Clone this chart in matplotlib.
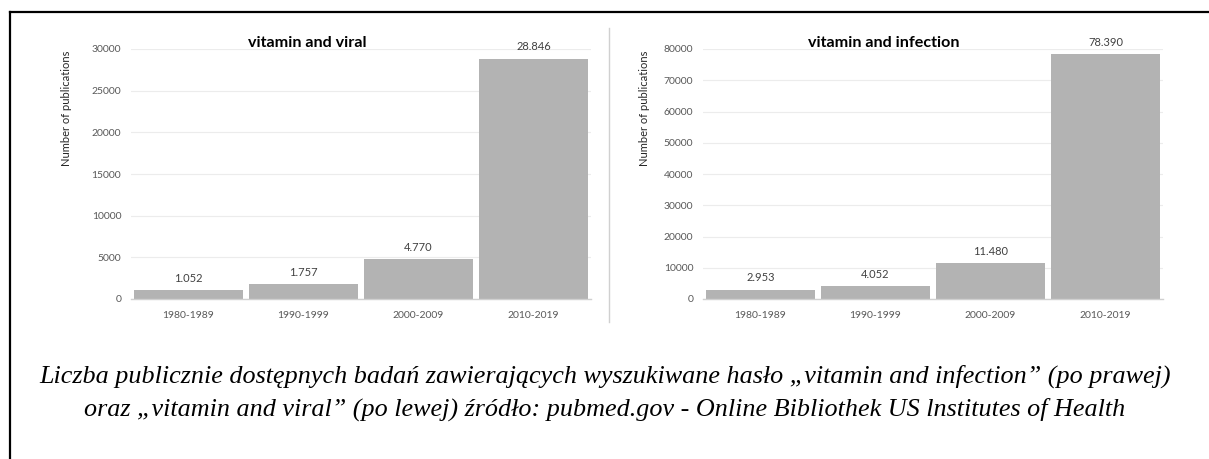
import matplotlib
matplotlib.use("Agg")
import matplotlib.pyplot as plt
from matplotlib.lines import Line2D

categories = ["1980-1989", "1990-1999", "2000-2009", "2010-2019"]
viral_values = [1052, 1757, 4770, 28846]
viral_labels = ["1.052", "1.757", "4.770", "28.846"]
infection_values = [2953, 4052, 11480, 78390]
infection_labels = ["2.953", "4.052", "11.480", "78.390"]

left_title = "vitamin and viral"
right_title = "vitamin and infection"
ylabel = "Number of publications"
caption1 = "Liczba publicznie dostępnych badań zawierających wyszukiwane hasło „vitamin and infection” (po prawej)"
caption2 = "oraz „vitamin and viral” (po lewej) źródło: pubmed.gov - Online Bibliothek US lnstitutes of Health"

W, H = 1209, 459
fig = plt.figure(figsize=(W / 100, H / 100), dpi=100)
fig.patch.set_facecolor("white")

FONT = "Lato"
BAR = "#b3b3b3"
GRID = "#ececec"
TICK = "#595959"


def px_axes(x0, x1, y_top, y_bot):
    return fig.add_axes([x0 / W, 1 - y_bot / H, (x1 - x0) / W, (y_bot - y_top) / H])


def draw_panel(ax, values, labels, ymax, ystep, title, title_x, ylabel_x):
    x = range(len(categories))
    ax.bar(x, values, width=0.955, color=BAR, zorder=2)
    ax.set_xlim(-0.5, len(categories) - 0.5)
    ax.set_ylim(0, ymax)
    ax.set_yticks(range(0, ymax + 1, ystep))
    ax.set_xticks(list(x))
    ax.set_xticklabels(categories)
    for s in ["top", "right", "left"]:
        ax.spines[s].set_visible(False)
    ax.spines["bottom"].set_color("#d0d0d0")
    ax.spines["bottom"].set_linewidth(1.0)
    ax.yaxis.grid(True, color=GRID, linewidth=0.8, zorder=0)
    ax.set_axisbelow(True)
    ax.tick_params(axis="both", length=0, labelsize=7.5, labelcolor=TICK)
    ax.tick_params(axis="y", pad=7)
    ax.tick_params(axis="x", pad=9)
    for lab in ax.get_xticklabels() + ax.get_yticklabels():
        lab.set_fontfamily(FONT)
    for xi, v, lab in zip(x, values, labels):
        ax.annotate(lab, (xi, v), xytext=(0, 8.5), textcoords="offset points",
                    ha="center", va="center", fontsize=8, color="#404040",
                    family=FONT)
    fig.text(title_x / W, 1 - 43 / H, title, ha="center", va="center",
             fontsize=11.6, fontweight="bold", family=FONT, color="black")
    fig.text(ylabel_x / W, 1 - 108 / H, ylabel, ha="center", va="center",
             rotation=90, fontsize=8, family=FONT, color="#262626")


ax1 = px_axes(131, 591, 49, 299)
draw_panel(ax1, viral_values, viral_labels, 30000, 5000, left_title, 307, 67)

ax2 = px_axes(703, 1163, 49, 299)
draw_panel(ax2, infection_values, infection_labels, 80000, 10000, right_title, 884, 645)

# separator between panels
fig.add_artist(Line2D([609 / W, 609 / W], [1 - 28 / H, 1 - 322 / H],
                      color="#d0d0d0", linewidth=1.0, transform=fig.transFigure))

# outer frame (top and left)
fig.add_artist(Line2D([10 / W, 1.0], [1 - 12 / H, 1 - 12 / H],
                      color="black", linewidth=1.6, transform=fig.transFigure))
fig.add_artist(Line2D([10 / W, 10 / W], [1 - 12 / H, 0.0],
                      color="black", linewidth=1.6, transform=fig.transFigure))

fig.text(605 / W, 1 - 376 / H, caption1, ha="center", va="center",
         fontsize=18.8, style="italic", family="Liberation Serif", color="black")
fig.text(605 / W, 1 - 409 / H, caption2, ha="center", va="center",
         fontsize=18.8, style="italic", family="Liberation Serif", color="black")

fig.savefig("out.png", dpi=100, facecolor="white")
